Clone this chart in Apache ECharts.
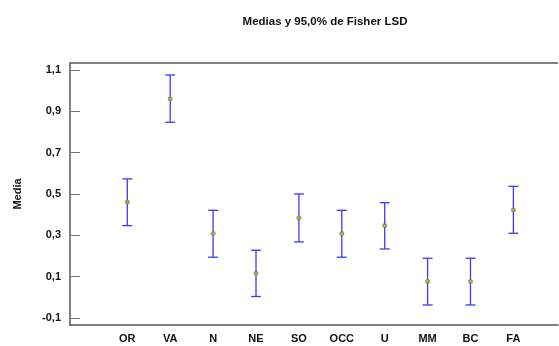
<!DOCTYPE html>
<html>
<head>
<meta charset="utf-8">
<script src="https://cdn.jsdelivr.net/npm/echarts@6/dist/echarts.min.js"></script>
<style>
  html, body { margin: 0; padding: 0; background: #fff; }
  #chart { width: 559px; height: 346px; }
</style>
</head>
<body>
<div id="chart"></div>
<script>
  // grupos y medias con sus limites LSD 95%
  var categories = ['OR', 'VA', 'N', 'NE', 'SO', 'OCC', 'U', 'MM', 'BC', 'FA'];
  var means = [0.461, 0.961, 0.309, 0.116, 0.385, 0.309, 0.347, 0.077, 0.077, 0.423];
  var lower = [0.347, 0.847, 0.194, 0.004, 0.268, 0.194, 0.234, -0.037, -0.037, 0.310];
  var upper = [0.573, 1.076, 0.421, 0.228, 0.500, 0.421, 0.458, 0.189, 0.189, 0.537];
  var yTicks = [-0.1, 0.1, 0.3, 0.5, 0.7, 0.9, 1.1];

  var idx = categories.map(function (c, i) { return i; });
  var barData = categories.map(function (c, i) { return [i, lower[i], upper[i]]; });
  var meanData = categories.map(function (c, i) { return [i, means[i]]; });

  var myChart = echarts.init(document.getElementById('chart'));
  myChart.setOption({
    animation: false,
    title: {
      text: 'Medias y 95,0% de Fisher LSD',
      left: 320,
      top: 11,
      textAlign: 'center',
      textStyle: { fontFamily: 'Liberation Sans', fontSize: 11.5, fontWeight: 'bold', color: '#111' }
    },
    grid: { left: 70, right: 1, top: 63, bottom: 21 },
    xAxis: {
      type: 'value',
      min: -1.336,
      max: 10.04,
      splitLine: { show: false },
      axisLine: { show: true, onZero: false, lineStyle: { color: '#555', width: 1.5 } },
      axisTick: { show: false },
      axisLabel: {
        customValues: idx,
        margin: 8,
        fontFamily: 'Liberation Sans',
        fontWeight: 'bold',
        fontSize: 11,
        color: '#111',
        formatter: function (v) { return categories[Math.round(v)]; }
      }
    },
    yAxis: {
      type: 'value',
      min: -0.1339,
      max: 1.1339,
      name: 'Media',
      nameLocation: 'middle',
      nameGap: 47,
      nameRotate: 90,
      nameTextStyle: { fontFamily: 'Liberation Sans', fontWeight: 'bold', fontSize: 11, color: '#111' },
      splitLine: { show: false },
      axisLine: { show: true, onZero: false, lineStyle: { color: '#555', width: 1.5 } },
      axisTick: { show: true, inside: true, length: 10, customValues: yTicks, lineStyle: { color: '#777' } },
      axisLabel: {
        customValues: yTicks,
        margin: 9,
        fontFamily: 'Liberation Sans',
        fontWeight: 'bold',
        fontSize: 11,
        color: '#111',
        formatter: function (v) { return v.toFixed(1).replace('.', ','); }
      }
    },
    graphic: [{
      // linea superior del marco
      type: 'line',
      shape: { x1: 70, y1: 63, x2: 558, y2: 63 },
      style: { stroke: '#555', lineWidth: 1.5 }
    }],
    series: [
      {
        name: 'LSD',
        type: 'custom',
        data: barData,
        renderItem: function (params, api) {
          var x = api.value(0);
          var lo = api.coord([x, api.value(1)]);
          var hi = api.coord([x, api.value(2)]);
          var w = 5;
          var st = { stroke: '#3a3aff', lineWidth: 1.3 };
          return {
            type: 'group',
            children: [
              { type: 'line', shape: { x1: lo[0], y1: lo[1], x2: hi[0], y2: hi[1] }, style: st },
              { type: 'line', shape: { x1: lo[0] - w, y1: lo[1], x2: lo[0] + w, y2: lo[1] }, style: st },
              { type: 'line', shape: { x1: hi[0] - w, y1: hi[1], x2: hi[0] + w, y2: hi[1] }, style: st }
            ]
          };
        },
        z: 2
      },
      {
        name: 'Media',
        type: 'scatter',
        data: meanData,
        symbol: 'emptyCircle',
        symbolSize: 3,
        itemStyle: { color: '#8f8a2a', borderColor: '#8f8a2a', borderWidth: 1 },
        z: 3
      }
    ]
  });
</script>
</body>
</html>
